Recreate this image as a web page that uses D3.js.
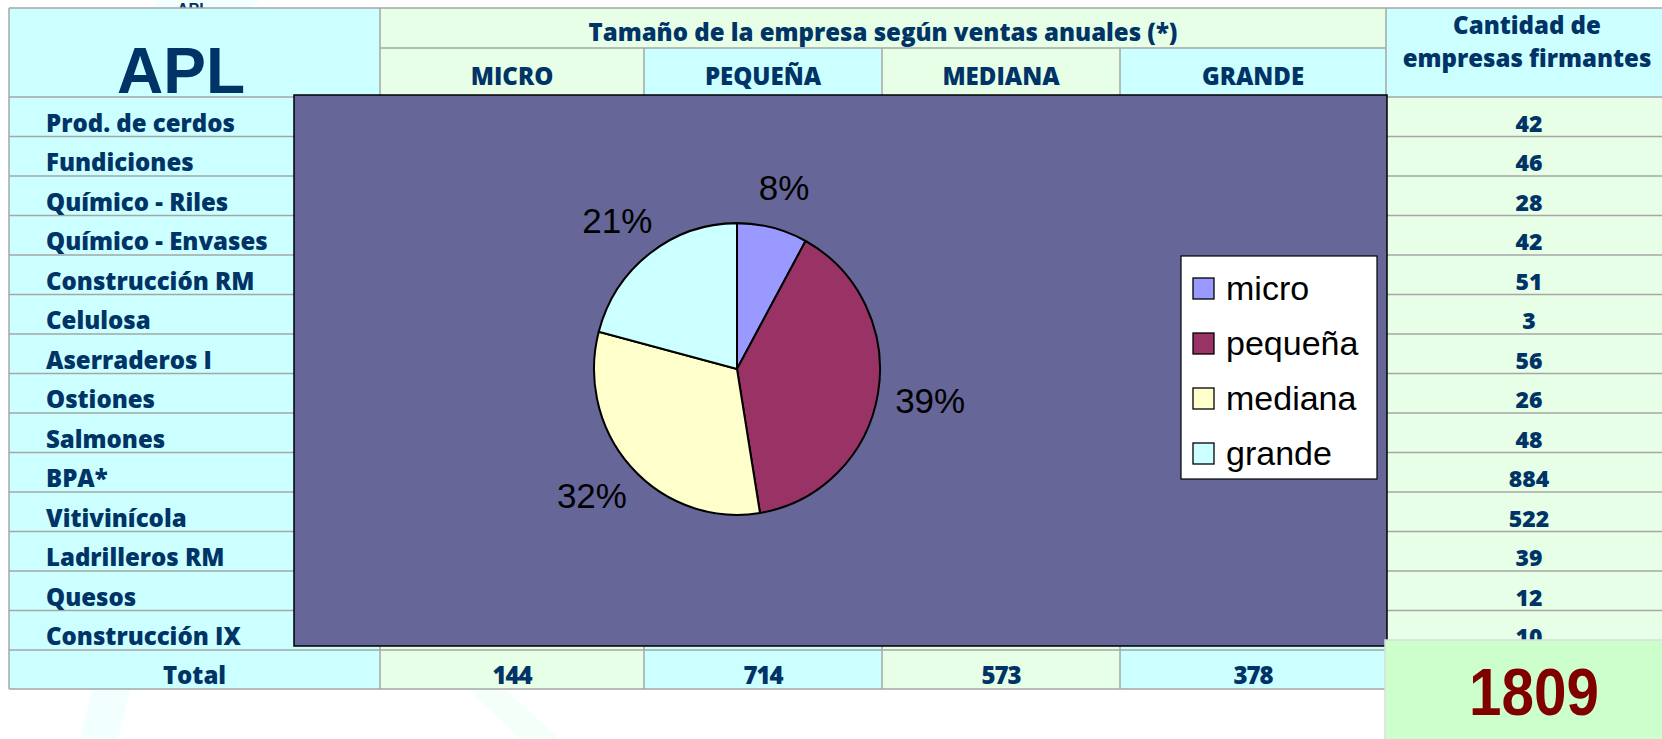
<!DOCTYPE html>
<html>
<head>
<meta charset="utf-8">
<script src="https://cdn.jsdelivr.net/npm/d3@7"></script>
<style>
  html, body { margin: 0; padding: 0; background: #ffffff; }
  svg { display: block; }
  .tbl { font-family: "Open Sans", Lato, sans-serif; font-weight: 800; fill: #003366; }
  .chart-text { font-family: "Liberation Sans", Arial, sans-serif; fill: #000000; }
</style>
</head>
<body>
<svg id="c" width="1662" height="739"></svg>
<script>
// ---------- data ----------
const sectors = ["Prod. de cerdos", "Fundiciones", "Químico - Riles", "Químico - Envases",
  "Construcción RM", "Celulosa", "Aserraderos I", "Ostiones", "Salmones", "BPA*",
  "Vitivinícola", "Ladrilleros RM", "Quesos", "Construcción IX"];
const firmantes = [42, 46, 28, 42, 51, 3, 56, 26, 48, 884, 522, 39, 12, 10];
const sizeHeaders = ["MICRO", "PEQUEÑA", "MEDIANA", "GRANDE"];
const sizeKeys = ["micro", "pequeña", "mediana", "grande"];
const sizeTotals = [144, 714, 573, 378];
const grandTotal = 1809;
const titleText = "APL";
const groupHeader = "Tamaño de la empresa según ventas anuales (*)";
const countHeader = ["Cantidad de", "empresas firmantes"];
const totalLabel = "Total";

// ---------- layout ----------
const svg = d3.select("#c");
const cyan = "#CCFFFF", green = "#E6FFE6", grid = "#A6A6A6";
const colEdges = [9, 380, 644, 882, 1120, 1386, 1672];
const tableTop = 8, headerMid = 48, headerBottom = 97, dataBottom = 650, totalBottom = 689;

const y = d3.scaleBand().domain(sectors).range([headerBottom, dataBottom]).padding(0);
const sizeLeft = d3.scaleOrdinal().domain(sizeKeys).range(colEdges.slice(1, 5));
const sizeRight = d3.scaleOrdinal().domain(sizeKeys).range(colEdges.slice(2, 6));
const sizeMid = d => (sizeLeft(d) + sizeRight(d)) / 2;
const sizeFill = d3.scaleOrdinal().domain(sizeKeys).range([green, cyan, green, cyan]);

// faint watermark strokes
const wm = svg.append("g").attr("fill", "#F2FFFF");
wm.append("path").attr("d", "M80,739 L118,739 L130,690 L92,690 Z");
wm.append("path").attr("d", "M470,690 L505,690 L560,739 L520,739 Z").attr("fill", "#F4FFFA");
wm.append("path").attr("d", "M160,0 L260,0 L250,8 L150,8 Z");

// small ghost title above table (mostly hidden by the table)
svg.append("text").attr("x", 193).attr("y", 15).attr("fill", "#003366")
  .attr("text-anchor", "middle")
  .style("font-family", "'Liberation Sans', Arial, sans-serif").style("font-weight", 700)
  .style("font-size", "16px").text(titleText);

const tbl = svg.append("g");

// APL column
tbl.append("rect").attr("x", colEdges[0]).attr("y", tableTop)
  .attr("width", colEdges[1] - colEdges[0]).attr("height", totalBottom - tableTop).attr("fill", cyan);

// group header
tbl.append("rect").attr("x", colEdges[1]).attr("y", tableTop)
  .attr("width", colEdges[5] - colEdges[1]).attr("height", headerMid - tableTop).attr("fill", green);

// size columns (header + data + total)
tbl.selectAll("rect.sizecol").data(sizeKeys).join("rect").attr("class", "sizecol")
  .attr("x", d => sizeLeft(d)).attr("y", headerMid)
  .attr("width", d => sizeRight(d) - sizeLeft(d)).attr("height", totalBottom - headerMid)
  .attr("fill", d => sizeFill(d));

// count column
tbl.append("rect").attr("x", colEdges[5]).attr("y", tableTop)
  .attr("width", colEdges[6] - colEdges[5]).attr("height", headerBottom - tableTop).attr("fill", cyan);
tbl.append("rect").attr("x", colEdges[5]).attr("y", headerBottom)
  .attr("width", colEdges[6] - colEdges[5]).attr("height", dataBottom - headerBottom).attr("fill", green);

// grid lines
const gl = tbl.append("g").attr("stroke", grid).attr("stroke-width", 1.5);
const hLines = [tableTop, headerBottom, ...sectors.map(s => y(s) + y.bandwidth()), totalBottom];
gl.selectAll("line.h").data(hLines).join("line").attr("class", "h")
  .attr("x1", colEdges[0]).attr("x2", colEdges[6]).attr("y1", d => d).attr("y2", d => d);
gl.append("line").attr("x1", colEdges[1]).attr("x2", colEdges[5]).attr("y1", headerMid).attr("y2", headerMid);
gl.selectAll("line.v").data(colEdges.slice(0, 6)).join("line").attr("class", "v")
  .attr("x1", d => d).attr("x2", d => d)
  .attr("y1", (d, i) => (i >= 2 && i <= 4) ? headerMid : tableTop).attr("y2", totalBottom);

// header texts
tbl.append("text").attr("x", 181).attr("y", 93)
  .attr("text-anchor", "middle").attr("fill", "#003366")
  .style("font-family", "'Liberation Sans', Arial, sans-serif").style("font-weight", 700)
  .style("font-size", "64px").text(titleText);
tbl.append("text").attr("class", "tbl").attr("x", (colEdges[1] + colEdges[5]) / 2).attr("y", 41)
  .attr("text-anchor", "middle").style("font-size", "24px").text(groupHeader);
tbl.selectAll("text.sh").data(sizeKeys).join("text").attr("class", "tbl sh")
  .attr("x", d => sizeMid(d)).attr("y", 85)
  .attr("text-anchor", "middle").style("font-size", "24px")
  .text((d, i) => sizeHeaders[i]);
tbl.selectAll("text.ch").data(countHeader).join("text").attr("class", "tbl ch")
  .attr("x", 1527).attr("y", (d, i) => 34 + i * 33)
  .attr("text-anchor", "middle").style("font-size", "24px").text(d => d);

// row labels and counts
tbl.selectAll("text.rl").data(sectors).join("text").attr("class", "tbl rl")
  .attr("x", 46).attr("y", d => y(d) + y.bandwidth() - 5)
  .style("font-size", "24px").text(d => d);
tbl.selectAll("text.rc").data(firmantes).join("text").attr("class", "tbl rc")
  .attr("x", 1529).attr("y", (d, i) => y(sectors[i]) + y.bandwidth() - 5)
  .attr("text-anchor", "middle").style("font-size", "23px").text(d => d);

// total row
tbl.append("text").attr("class", "tbl").attr("x", (colEdges[0] + colEdges[1]) / 2).attr("y", totalBottom - 5)
  .attr("text-anchor", "middle").style("font-size", "24px").text(totalLabel);
tbl.selectAll("text.tt").data(sizeTotals).join("text").attr("class", "tbl tt")
  .attr("x", (d, i) => sizeMid(sizeKeys[i])).attr("y", totalBottom - 5)
  .attr("text-anchor", "middle").style("font-size", "24px").style("letter-spacing", "-1px").text(d => d);

// ---------- pie chart overlay ----------
const chartBox = { x: 294, y: 95, w: 1093, h: 551 };
svg.append("rect").attr("x", chartBox.x).attr("y", chartBox.y)
  .attr("width", chartBox.w).attr("height", chartBox.h)
  .attr("fill", "#666699").attr("stroke", "#000").attr("stroke-width", 1.5);

const pieColors = d3.scaleOrdinal().domain(sizeKeys).range(["#9999FF", "#993366", "#FFFFCC", "#CCFFFF"]);
const pieData = d3.pie().sort(null).value(d => d.v)(sizeKeys.map((k, i) => ({ k, v: sizeTotals[i] })));
const cx = 737, cy = 369, R = 143;
const arc = d3.arc().innerRadius(0).outerRadius(R);
const pg = svg.append("g").attr("transform", `translate(${cx},${cy}) scale(1,1.02)`);
pg.selectAll("path").data(pieData).join("path")
  .attr("d", arc).attr("fill", d => pieColors(d.data.k))
  .attr("stroke", "#000").attr("stroke-width", 2).attr("stroke-linejoin", "round");

// labels: anchored just outside the rim, text box pushed outward along the mid-angle
const fmt = d3.format(".0%");
const total = d3.sum(sizeTotals);
const labelR = 175, boxH = 25;
svg.append("g").attr("transform", `translate(${cx},${cy})`)
  .selectAll("text").data(pieData).join("text").attr("class", "chart-text")
  .each(function (d) {
    const a = (d.startAngle + d.endAngle) / 2;
    const s = Math.sin(a), c = Math.cos(a);
    const txt = fmt(d.data.v / total);
    const w = txt.length === 2 ? 52 : 70;
    d3.select(this)
      .attr("x", s * labelR + s * w * 0.3)
      .attr("y", -c * labelR - c * boxH / 2)
      .text(txt);
  })
  .attr("dy", "0.36em").attr("text-anchor", "middle").style("font-size", "35px");

// legend
const lg = svg.append("g");
lg.append("rect").attr("x", 1181).attr("y", 256).attr("width", 196).attr("height", 223)
  .attr("fill", "#fff").attr("stroke", "#000").attr("stroke-width", 1.2);
const ly = d3.scalePoint().domain(sizeKeys).range([288, 453]);
lg.selectAll("rect.sw").data(sizeKeys).join("rect").attr("class", "sw")
  .attr("x", 1193).attr("y", d => ly(d) - 10).attr("width", 21).attr("height", 21)
  .attr("fill", d => pieColors(d)).attr("stroke", "#000").attr("stroke-width", 1.3);
lg.selectAll("text").data(sizeKeys).join("text").attr("class", "chart-text")
  .attr("x", 1226).attr("y", d => ly(d) + 12).style("font-size", "34px").text(d => d);

// grand total box
svg.append("rect").attr("x", 1385).attr("y", 640).attr("width", 290).attr("height", 110)
  .attr("fill", "#CCFFCC").attr("stroke", "#DDDDDD").attr("stroke-width", 1.5);
svg.append("text").attr("x", 1534).attr("y", 715).attr("text-anchor", "middle")
  .attr("textLength", 130).attr("lengthAdjust", "spacingAndGlyphs")
  .style("font-family", "'Liberation Sans', Arial, sans-serif").style("font-weight", 700).style("font-size", "67px")
  .attr("fill", "#800000").text(grandTotal);
</script>
</body>
</html>
